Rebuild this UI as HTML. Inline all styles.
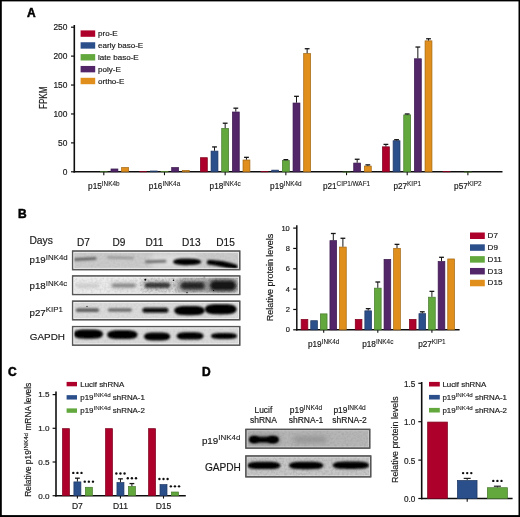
<!DOCTYPE html>
<html><head><meta charset="utf-8"><style>
html,body{margin:0;padding:0;background:#fff;}
svg{display:block;font-family:"Liberation Sans", sans-serif;fill:#1a1a1a;}
text{fill:#1a1a1a;stroke:#1a1a1a;stroke-width:0.18px;}
text.b{stroke-width:0.5px;fill:#000;stroke:#000;}
</style></head><body>
<svg width="520" height="517" viewBox="0 0 520 517">
<defs>
<filter id="soft" x="0" y="0" width="100%" height="100%" filterUnits="userSpaceOnUse"><feGaussianBlur stdDeviation="0.42"/></filter>
<filter id="b05" x="-50%" y="-200%" width="200%" height="500%"><feGaussianBlur stdDeviation="0.6"/></filter>
<filter id="b1" x="-50%" y="-200%" width="200%" height="500%"><feGaussianBlur stdDeviation="0.9"/></filter>
<filter id="b15" x="-50%" y="-200%" width="200%" height="500%"><feGaussianBlur stdDeviation="1.3"/></filter>
<filter id="b2" x="-50%" y="-200%" width="200%" height="500%"><feGaussianBlur stdDeviation="1.8"/></filter>
<filter id="b3" x="-50%" y="-200%" width="200%" height="500%"><feGaussianBlur stdDeviation="2.8"/></filter>
<filter id="grain" x="0" y="0" width="100%" height="100%"><feTurbulence type="fractalNoise" baseFrequency="0.45" numOctaves="2" seed="7" result="t"/><feColorMatrix in="t" type="matrix" values="0 0 0 0 0  0 0 0 0 0  0 0 0 0 0  0 0 0 -1.2 0.75"/></filter>
</defs>
<rect width="520" height="517" fill="#fff"/>
<g filter="url(#soft)">
<rect width="520" height="517" fill="#fff"/>
<rect x="0.00" y="0.00" width="520.00" height="1.40" fill="#000" />
<rect x="0.00" y="0.00" width="1.80" height="517.00" fill="#000" />
<rect x="518.50" y="0.00" width="1.50" height="517.00" fill="#000" />
<rect x="0.00" y="515.10" width="520.00" height="1.90" fill="#000" />
<text x="27.00" y="16.60" font-size="12" text-anchor="start" font-weight="bold"  class="b">A</text>
<line x1="74.30" y1="25.00" x2="74.30" y2="172.60" stroke="#111" stroke-width="1.6"/>
<line x1="71.00" y1="171.80" x2="74.30" y2="171.80" stroke="#111" stroke-width="1.2"/>
<text x="67.40" y="174.80" font-size="8.4" text-anchor="end" font-weight="normal" >0</text>
<line x1="71.00" y1="142.88" x2="74.30" y2="142.88" stroke="#111" stroke-width="1.2"/>
<text x="67.40" y="145.88" font-size="8.4" text-anchor="end" font-weight="normal" >50</text>
<line x1="71.00" y1="113.96" x2="74.30" y2="113.96" stroke="#111" stroke-width="1.2"/>
<text x="67.40" y="116.96" font-size="8.4" text-anchor="end" font-weight="normal" >100</text>
<line x1="71.00" y1="85.04" x2="74.30" y2="85.04" stroke="#111" stroke-width="1.2"/>
<text x="67.40" y="88.04" font-size="8.4" text-anchor="end" font-weight="normal" >150</text>
<line x1="71.00" y1="56.12" x2="74.30" y2="56.12" stroke="#111" stroke-width="1.2"/>
<text x="67.40" y="59.12" font-size="8.4" text-anchor="end" font-weight="normal" >200</text>
<line x1="71.00" y1="27.20" x2="74.30" y2="27.20" stroke="#111" stroke-width="1.2"/>
<text x="67.40" y="30.20" font-size="8.4" text-anchor="end" font-weight="normal" >250</text>
<text transform="translate(47.4,97.8) rotate(-90)" font-size="10.3" text-anchor="middle" textLength="22.4" lengthAdjust="spacingAndGlyphs">FPKM</text>
<rect x="80.60" y="30.40" width="14.60" height="6.40" fill="#ad0229" />
<text x="98.00" y="36.40" font-size="8.05" text-anchor="start" font-weight="normal" >pro-E</text>
<rect x="80.60" y="42.25" width="14.60" height="6.40" fill="#2c4f8a" />
<text x="98.00" y="48.25" font-size="8.05" text-anchor="start" font-weight="normal" >early baso-E</text>
<rect x="80.60" y="54.10" width="14.60" height="6.40" fill="#62a83e" />
<text x="98.00" y="60.10" font-size="8.05" text-anchor="start" font-weight="normal" >late baso-E</text>
<rect x="80.60" y="65.95" width="14.60" height="6.40" fill="#52256b" />
<text x="98.00" y="71.95" font-size="8.05" text-anchor="start" font-weight="normal" >poly-E</text>
<rect x="80.60" y="77.80" width="14.60" height="6.40" fill="#e08e1a" />
<text x="98.00" y="83.80" font-size="8.05" text-anchor="start" font-weight="normal" >ortho-E</text>
<line x1="73.50" y1="171.80" x2="502.50" y2="171.80" stroke="#111" stroke-width="1.6"/>
<line x1="103.80" y1="171.80" x2="103.80" y2="175.20" stroke="#111" stroke-width="1.1"/>
<rect x="100.35" y="171.69" width="6.90" height="0.11" fill="#62a83e" stroke="#46782c" stroke-width="0.7"/>
<rect x="111.00" y="168.97" width="6.90" height="2.83" fill="#52256b" stroke="#3b1a4d" stroke-width="0.7"/>
<rect x="121.65" y="167.52" width="6.90" height="4.28" fill="#e08e1a" stroke="#a16612" stroke-width="0.7"/>
<text x="103.80" y="189.00" font-size="8.2" text-anchor="middle" font-weight="normal" >p15<tspan font-size="6.4" dy="-3.0" stroke-width="0.1">INK4b</tspan></text>
<line x1="164.48" y1="171.80" x2="164.48" y2="175.20" stroke="#111" stroke-width="1.1"/>
<rect x="139.73" y="171.57" width="6.90" height="0.23" fill="#ad0229" stroke="#7c011d" stroke-width="0.7"/>
<rect x="150.38" y="170.99" width="6.90" height="0.81" fill="#2c4f8a" stroke="#1f3863" stroke-width="0.7"/>
<rect x="161.03" y="171.57" width="6.90" height="0.23" fill="#62a83e" stroke="#46782c" stroke-width="0.7"/>
<rect x="171.68" y="167.52" width="6.90" height="4.28" fill="#52256b" stroke="#3b1a4d" stroke-width="0.7"/>
<rect x="182.33" y="170.41" width="6.90" height="1.39" fill="#e08e1a" stroke="#a16612" stroke-width="0.7"/>
<text x="164.48" y="189.00" font-size="8.2" text-anchor="middle" font-weight="normal" >p16<tspan font-size="6.4" dy="-3.0" stroke-width="0.1">INK4a</tspan></text>
<line x1="225.16" y1="171.80" x2="225.16" y2="175.20" stroke="#111" stroke-width="1.1"/>
<rect x="200.41" y="157.69" width="6.90" height="14.11" fill="#ad0229" stroke="#7c011d" stroke-width="0.7"/>
<rect x="211.06" y="151.10" width="6.90" height="20.70" fill="#2c4f8a" stroke="#1f3863" stroke-width="0.7"/>
<line x1="214.51" y1="150.75" x2="214.51" y2="146.93" stroke="#151515" stroke-width="1.0"/>
<line x1="212.11" y1="146.93" x2="216.91" y2="146.93" stroke="#151515" stroke-width="1.3"/>
<rect x="221.71" y="128.48" width="6.90" height="43.32" fill="#62a83e" stroke="#46782c" stroke-width="0.7"/>
<line x1="225.16" y1="128.13" x2="225.16" y2="123.21" stroke="#151515" stroke-width="1.0"/>
<line x1="222.76" y1="123.21" x2="227.56" y2="123.21" stroke="#151515" stroke-width="1.3"/>
<rect x="232.36" y="112.00" width="6.90" height="59.80" fill="#52256b" stroke="#3b1a4d" stroke-width="0.7"/>
<line x1="235.81" y1="111.65" x2="235.81" y2="108.18" stroke="#151515" stroke-width="1.0"/>
<line x1="233.41" y1="108.18" x2="238.21" y2="108.18" stroke="#151515" stroke-width="1.3"/>
<rect x="243.01" y="160.00" width="6.90" height="11.80" fill="#e08e1a" stroke="#a16612" stroke-width="0.7"/>
<line x1="246.46" y1="159.65" x2="246.46" y2="157.34" stroke="#151515" stroke-width="1.0"/>
<line x1="244.06" y1="157.34" x2="248.86" y2="157.34" stroke="#151515" stroke-width="1.3"/>
<text x="225.16" y="189.00" font-size="8.2" text-anchor="middle" font-weight="normal" >p18<tspan font-size="6.4" dy="-3.0" stroke-width="0.1">INK4c</tspan></text>
<line x1="285.84" y1="171.80" x2="285.84" y2="175.20" stroke="#111" stroke-width="1.1"/>
<rect x="261.09" y="171.57" width="6.90" height="0.23" fill="#ad0229" stroke="#7c011d" stroke-width="0.7"/>
<rect x="271.74" y="170.13" width="6.90" height="1.67" fill="#2c4f8a" stroke="#1f3863" stroke-width="0.7"/>
<rect x="282.39" y="160.58" width="6.90" height="11.22" fill="#62a83e" stroke="#46782c" stroke-width="0.7"/>
<line x1="285.84" y1="160.23" x2="285.84" y2="159.65" stroke="#151515" stroke-width="1.0"/>
<line x1="283.44" y1="159.65" x2="288.24" y2="159.65" stroke="#151515" stroke-width="1.3"/>
<rect x="293.04" y="103.03" width="6.90" height="68.77" fill="#52256b" stroke="#3b1a4d" stroke-width="0.7"/>
<line x1="296.49" y1="102.68" x2="296.49" y2="96.32" stroke="#151515" stroke-width="1.0"/>
<line x1="294.09" y1="96.32" x2="298.89" y2="96.32" stroke="#151515" stroke-width="1.3"/>
<rect x="303.69" y="53.58" width="6.90" height="118.22" fill="#e08e1a" stroke="#a16612" stroke-width="0.7"/>
<line x1="307.14" y1="53.23" x2="307.14" y2="48.72" stroke="#151515" stroke-width="1.0"/>
<line x1="304.74" y1="48.72" x2="309.54" y2="48.72" stroke="#151515" stroke-width="1.3"/>
<text x="285.84" y="189.00" font-size="8.2" text-anchor="middle" font-weight="normal" >p19<tspan font-size="6.4" dy="-3.0" stroke-width="0.1">INK4d</tspan></text>
<line x1="346.52" y1="171.80" x2="346.52" y2="175.20" stroke="#111" stroke-width="1.1"/>
<rect x="343.07" y="171.98" width="6.90" height="0.10" fill="#62a83e" stroke="#46782c" stroke-width="0.7"/>
<rect x="353.72" y="163.07" width="6.90" height="8.73" fill="#52256b" stroke="#3b1a4d" stroke-width="0.7"/>
<line x1="357.17" y1="162.72" x2="357.17" y2="159.25" stroke="#151515" stroke-width="1.0"/>
<line x1="354.77" y1="159.25" x2="359.57" y2="159.25" stroke="#151515" stroke-width="1.3"/>
<rect x="364.37" y="166.08" width="6.90" height="5.72" fill="#e08e1a" stroke="#a16612" stroke-width="0.7"/>
<line x1="367.82" y1="165.73" x2="367.82" y2="164.86" stroke="#151515" stroke-width="1.0"/>
<line x1="365.42" y1="164.86" x2="370.22" y2="164.86" stroke="#151515" stroke-width="1.3"/>
<text x="346.52" y="189.00" font-size="8.2" text-anchor="middle" font-weight="normal" >p21<tspan font-size="6.4" dy="-3.0" stroke-width="0.1">CIP1/WAF1</tspan></text>
<line x1="407.20" y1="171.80" x2="407.20" y2="175.20" stroke="#111" stroke-width="1.1"/>
<rect x="382.45" y="146.82" width="6.90" height="24.98" fill="#ad0229" stroke="#7c011d" stroke-width="0.7"/>
<line x1="385.90" y1="146.47" x2="385.90" y2="144.38" stroke="#151515" stroke-width="1.0"/>
<line x1="383.50" y1="144.38" x2="388.30" y2="144.38" stroke="#151515" stroke-width="1.3"/>
<rect x="393.10" y="140.74" width="6.90" height="31.06" fill="#2c4f8a" stroke="#1f3863" stroke-width="0.7"/>
<line x1="396.55" y1="140.39" x2="396.55" y2="139.70" stroke="#151515" stroke-width="1.0"/>
<line x1="394.15" y1="139.70" x2="398.95" y2="139.70" stroke="#151515" stroke-width="1.3"/>
<rect x="403.75" y="114.89" width="6.90" height="56.91" fill="#62a83e" stroke="#46782c" stroke-width="0.7"/>
<line x1="407.20" y1="114.54" x2="407.20" y2="113.96" stroke="#151515" stroke-width="1.0"/>
<line x1="404.80" y1="113.96" x2="409.60" y2="113.96" stroke="#151515" stroke-width="1.3"/>
<rect x="414.40" y="58.78" width="6.90" height="113.02" fill="#52256b" stroke="#3b1a4d" stroke-width="0.7"/>
<line x1="417.85" y1="58.43" x2="417.85" y2="47.04" stroke="#151515" stroke-width="1.0"/>
<line x1="415.45" y1="47.04" x2="420.25" y2="47.04" stroke="#151515" stroke-width="1.3"/>
<rect x="425.05" y="40.85" width="6.90" height="130.95" fill="#e08e1a" stroke="#a16612" stroke-width="0.7"/>
<line x1="428.50" y1="40.50" x2="428.50" y2="38.77" stroke="#151515" stroke-width="1.0"/>
<line x1="426.10" y1="38.77" x2="430.90" y2="38.77" stroke="#151515" stroke-width="1.3"/>
<text x="407.20" y="189.00" font-size="8.2" text-anchor="middle" font-weight="normal" >p27<tspan font-size="6.4" dy="-3.0" stroke-width="0.1">KIP1</tspan></text>
<line x1="467.88" y1="171.80" x2="467.88" y2="175.20" stroke="#111" stroke-width="1.1"/>
<rect x="443.13" y="171.63" width="6.90" height="0.17" fill="#ad0229" stroke="#7c011d" stroke-width="0.7"/>
<rect x="464.43" y="171.98" width="6.90" height="0.10" fill="#62a83e" stroke="#46782c" stroke-width="0.7"/>
<text x="467.88" y="189.00" font-size="8.2" text-anchor="middle" font-weight="normal" >p57<tspan font-size="6.4" dy="-3.0" stroke-width="0.1">KIP2</tspan></text>
<text x="18.00" y="217.80" font-size="12" text-anchor="start" font-weight="bold"  class="b">B</text>
<text x="29.40" y="243.60" font-size="10.3" text-anchor="start" font-weight="normal" >Days</text>
<text x="83.40" y="246.00" font-size="10.1" text-anchor="middle" font-weight="normal" >D7</text>
<text x="119.00" y="246.00" font-size="10.1" text-anchor="middle" font-weight="normal" >D9</text>
<text x="154.40" y="246.00" font-size="10.1" text-anchor="middle" font-weight="normal" >D11</text>
<text x="191.30" y="246.00" font-size="10.1" text-anchor="middle" font-weight="normal" >D13</text>
<text x="225.50" y="246.00" font-size="10.1" text-anchor="middle" font-weight="normal" >D15</text>
<text x="29.60" y="263.30" font-size="9.7" text-anchor="start" font-weight="normal" >p19<tspan font-size="7.9" dy="-3.2" stroke-width="0.1">INK4d</tspan></text>
<text x="29.60" y="289.00" font-size="9.7" text-anchor="start" font-weight="normal" >p18<tspan font-size="7.9" dy="-3.2" stroke-width="0.1">INK4c</tspan></text>
<text x="29.60" y="315.60" font-size="9.7" text-anchor="start" font-weight="normal" >p27<tspan font-size="7.9" dy="-3.2" stroke-width="0.1">KIP1</tspan></text>
<text x="29.80" y="339.70" font-size="9.9" text-anchor="start" font-weight="normal" >GAPDH</text>
<clipPath id="cb0"><rect x="73.2" y="251.7" width="165.9" height="17.3"/></clipPath>
<rect x="72.60" y="251.10" width="167.10" height="18.50" fill="#cacaca" stroke="#575757" stroke-width="1.3"/>
<g clip-path="url(#cb0)">
<rect x="72" y="250.5" width="168.3" height="19.7" filter="url(#grain)" opacity="0.08"/>
<rect x="150.00" y="254.00" width="50.00" height="14.00" rx="7.00" fill="#e6e6e6" opacity="0.7" filter="url(#b3)" transform="rotate(0 175.00 261.00)"/>
<rect x="73.50" y="257.70" width="23.00" height="2.60" rx="1.30" fill="#4a4a4a" opacity="0.9" filter="url(#b1)" transform="rotate(-3 85.00 259.00)"/>
<rect x="107.00" y="256.50" width="27.00" height="2.60" rx="1.30" fill="#8c8c8c" opacity="0.8" filter="url(#b15)" transform="rotate(1.5 120.50 257.80)"/>
<rect x="145.00" y="260.10" width="21.50" height="3.00" rx="1.50" fill="#606060" opacity="0.85" filter="url(#b1)" transform="rotate(-2 155.75 261.60)"/>
<path d="M173,261.8 C173,258.9 180,258.4 187,258.4 C194,258.4 201.2,259 201.2,261.8 C201.2,264.6 194,265.2 187,265.2 C180,265.2 173,264.7 173,261.8 Z" fill="#000" opacity="1" filter="url(#b1)"/>
<path d="M208.5,259.9 C218,260 229,261.8 236,264.6 C238.6,265.8 238.6,269.6 235.5,269.3 C228,268.6 217,265.6 208.5,264.6 C206.4,264.4 206.4,260 208.5,259.9 Z" fill="#000" opacity="1" filter="url(#b1)"/>
</g>
<rect x="72.60" y="251.10" width="167.10" height="18.50" fill="none" stroke="#575757" stroke-width="1.3"/><rect x="73.85" y="252.35" width="164.60" height="16.00" fill="none" stroke="#f4f4f4" stroke-width="1.0" stroke-opacity="0.8"/>
<clipPath id="cb1"><rect x="73.2" y="276.59999999999997" width="165.9" height="17.3"/></clipPath>
<rect x="72.60" y="276.00" width="167.10" height="18.50" fill="#ebebeb" stroke="#575757" stroke-width="1.3"/>
<g clip-path="url(#cb1)">
<rect x="72" y="275.4" width="168.3" height="19.7" filter="url(#grain)" opacity="0.16"/>
<rect x="76.00" y="283.80" width="23.00" height="4.00" rx="2.00" fill="#c2c2c2" opacity="0.8" filter="url(#b2)" transform="rotate(0 87.50 285.80)"/>
<rect x="110.00" y="282.40" width="27.00" height="6.00" rx="3.00" fill="#b0b0b0" opacity="0.7" filter="url(#b3)" transform="rotate(0 123.50 285.40)"/>
<rect x="112.00" y="283.80" width="23.50" height="3.40" rx="1.70" fill="#7a7a7a" opacity="0.8" filter="url(#b15)" transform="rotate(0 123.75 285.50)"/>
<rect x="141.00" y="279.80" width="31.00" height="11.00" rx="5.50" fill="#a8a8a8" opacity="0.7" filter="url(#b3)" transform="rotate(0 156.50 285.30)"/>
<rect x="145.00" y="282.80" width="25.00" height="5.00" rx="2.50" fill="#2a2a2a" opacity="0.9" filter="url(#b15)" transform="rotate(0 157.50 285.30)"/>
<rect x="174.00" y="276.70" width="38.00" height="18.00" rx="9.00" fill="#a0a0a0" opacity="0.85" filter="url(#b3)" transform="rotate(0 193.00 285.70)"/>
<rect x="180.50" y="281.95" width="25.00" height="7.50" rx="3.75" fill="#262626" opacity="1" filter="url(#b2)" transform="rotate(0 193.00 285.70)"/>
<rect x="205.00" y="276.00" width="35.00" height="19.00" rx="9.50" fill="#8a8a8a" opacity="0.85" filter="url(#b3)" transform="rotate(0 222.50 285.50)"/>
<rect x="210.00" y="280.60" width="26.00" height="10.00" rx="5.00" fill="#141414" opacity="1" filter="url(#b2)" transform="rotate(0 223.00 285.60)"/>
<rect x="140" y="276" width="100" height="19" filter="url(#grain)" opacity="0.22"/>
<circle cx="145.3" cy="279.8" r="1.0" fill="#000"/>
<circle cx="173.5" cy="280.2" r="0.8" fill="#000"/>
<circle cx="187" cy="292.8" r="0.9" fill="#000"/>
<circle cx="204.2" cy="276.8" r="0.9" fill="#000"/>
<circle cx="213.5" cy="290.5" r="0.6" fill="#000"/>
</g>
<rect x="72.60" y="276.00" width="167.10" height="18.50" fill="none" stroke="#575757" stroke-width="1.3"/><rect x="73.85" y="277.25" width="164.60" height="16.00" fill="none" stroke="#f4f4f4" stroke-width="1.0" stroke-opacity="0.8"/>
<clipPath id="cb2"><rect x="73.2" y="301.8" width="165.9" height="17.3"/></clipPath>
<rect x="72.60" y="301.20" width="167.10" height="18.50" fill="#dadada" stroke="#575757" stroke-width="1.3"/>
<g clip-path="url(#cb2)">
<rect x="72" y="300.6" width="168.3" height="19.7" filter="url(#grain)" opacity="0.08"/>
<rect x="75.80" y="308.30" width="23.30" height="3.80" rx="1.90" fill="#505050" opacity="0.9" filter="url(#b1)" transform="rotate(0 87.45 310.20)"/>
<rect x="107.80" y="308.30" width="24.20" height="3.40" rx="1.70" fill="#5a5a5a" opacity="0.85" filter="url(#b1)" transform="rotate(0 119.90 310.00)"/>
<rect x="142.40" y="307.70" width="26.00" height="5.00" rx="2.50" fill="#0a0a0a" opacity="1" filter="url(#b1)" transform="rotate(0 155.40 310.20)"/>
<path d="M174.20,310.60 C174.50,306.14 180.32,305.90 189.50,305.90 C198.68,305.90 204.50,306.14 204.80,310.60 C204.50,315.06 198.68,315.30 189.50,315.30 C180.32,315.30 174.50,315.06 174.20,310.60 Z" fill="#000" opacity="1" filter="url(#b15)"/>
<path d="M204.80,309.30 C205.10,304.45 211.16,304.20 220.70,304.20 C230.24,304.20 236.30,304.45 236.60,309.30 C236.30,314.15 230.24,314.40 220.70,314.40 C211.16,314.40 205.10,314.15 204.80,309.30 Z" fill="#000" opacity="1" filter="url(#b15)"/>
<circle cx="87" cy="306.5" r="0.7" fill="#333"/>
</g>
<rect x="72.60" y="301.20" width="167.10" height="18.50" fill="none" stroke="#575757" stroke-width="1.3"/><rect x="73.85" y="302.45" width="164.60" height="16.00" fill="none" stroke="#f4f4f4" stroke-width="1.0" stroke-opacity="0.8"/>
<clipPath id="cb3"><rect x="73.2" y="327.2" width="165.9" height="17.3"/></clipPath>
<rect x="72.60" y="326.60" width="167.10" height="18.50" fill="#d9d9d9" stroke="#575757" stroke-width="1.3"/>
<g clip-path="url(#cb3)">
<rect x="72" y="326.0" width="168.3" height="19.7" filter="url(#grain)" opacity="0.08"/>
<path d="M73.60,334.10 C73.90,329.64 79.48,329.40 88.30,329.40 C97.12,329.40 102.70,329.64 103.00,334.10 C102.70,338.56 97.12,338.80 88.30,338.80 C79.48,338.80 73.90,338.56 73.60,334.10 Z" fill="#000" opacity="1" filter="url(#b1)"/>
<path d="M107.20,334.70 C107.50,330.52 113.26,330.30 122.35,330.30 C131.44,330.30 137.20,330.52 137.50,334.70 C137.20,338.88 131.44,339.10 122.35,339.10 C113.26,339.10 107.50,338.88 107.20,334.70 Z" fill="#000" opacity="1" filter="url(#b1)"/>
<path d="M144.00,336.50 C144.30,332.70 149.24,332.50 157.10,332.50 C164.96,332.50 169.90,332.70 170.20,336.50 C169.90,340.30 164.96,340.50 157.10,340.50 C149.24,340.50 144.30,340.30 144.00,336.50 Z" fill="#000" opacity="1" filter="url(#b1)"/>
<path d="M176.60,335.90 C176.90,332.38 182.00,332.20 190.10,332.20 C198.20,332.20 203.30,332.38 203.60,335.90 C203.30,339.41 198.20,339.60 190.10,339.60 C182.00,339.60 176.90,339.41 176.60,335.90 Z" fill="#000" opacity="1" filter="url(#b1)"/>
<path d="M211.00,335.90 C211.30,333.05 216.22,332.90 224.05,332.90 C231.88,332.90 236.80,333.05 237.10,335.90 C236.80,338.75 231.88,338.90 224.05,338.90 C216.22,338.90 211.30,338.75 211.00,335.90 Z" fill="#000" opacity="1" filter="url(#b1)"/>
</g>
<rect x="72.60" y="326.60" width="167.10" height="18.50" fill="none" stroke="#575757" stroke-width="1.3"/><rect x="73.85" y="327.85" width="164.60" height="16.00" fill="none" stroke="#f4f4f4" stroke-width="1.0" stroke-opacity="0.8"/>
<line x1="296.80" y1="225.30" x2="296.80" y2="330.50" stroke="#111" stroke-width="1.5"/>
<line x1="293.20" y1="329.80" x2="296.80" y2="329.80" stroke="#111" stroke-width="1.2"/>
<text x="289.80" y="332.40" font-size="7.5" text-anchor="end" font-weight="normal" >0</text>
<line x1="293.20" y1="309.46" x2="296.80" y2="309.46" stroke="#111" stroke-width="1.2"/>
<text x="289.80" y="312.06" font-size="7.5" text-anchor="end" font-weight="normal" >2</text>
<line x1="293.20" y1="289.12" x2="296.80" y2="289.12" stroke="#111" stroke-width="1.2"/>
<text x="289.80" y="291.72" font-size="7.5" text-anchor="end" font-weight="normal" >4</text>
<line x1="293.20" y1="268.78" x2="296.80" y2="268.78" stroke="#111" stroke-width="1.2"/>
<text x="289.80" y="271.38" font-size="7.5" text-anchor="end" font-weight="normal" >6</text>
<line x1="293.20" y1="248.44" x2="296.80" y2="248.44" stroke="#111" stroke-width="1.2"/>
<text x="289.80" y="251.04" font-size="7.5" text-anchor="end" font-weight="normal" >8</text>
<line x1="293.20" y1="228.10" x2="296.80" y2="228.10" stroke="#111" stroke-width="1.2"/>
<text x="289.80" y="230.70" font-size="7.5" text-anchor="end" font-weight="normal" >10</text>
<text transform="translate(273.0,277.5) rotate(-90)" font-size="8.95" text-anchor="middle">Relative protein levels</text>
<line x1="296.00" y1="329.80" x2="459.60" y2="329.80" stroke="#111" stroke-width="1.5"/>
<line x1="323.70" y1="329.80" x2="323.70" y2="332.80" stroke="#111" stroke-width="1.1"/>
<rect x="301.15" y="319.37" width="6.70" height="10.43" fill="#ad0229" stroke="#7c011d" stroke-width="0.7"/>
<rect x="310.75" y="320.69" width="6.70" height="9.11" fill="#2c4f8a" stroke="#1f3863" stroke-width="0.7"/>
<rect x="320.35" y="313.88" width="6.70" height="15.92" fill="#62a83e" stroke="#46782c" stroke-width="0.7"/>
<rect x="329.95" y="240.65" width="6.70" height="89.15" fill="#52256b" stroke="#3b1a4d" stroke-width="0.7"/>
<line x1="333.30" y1="240.30" x2="333.30" y2="233.49" stroke="#151515" stroke-width="1.0"/>
<line x1="330.90" y1="233.49" x2="335.70" y2="233.49" stroke="#151515" stroke-width="1.3"/>
<rect x="339.55" y="247.06" width="6.70" height="82.74" fill="#e08e1a" stroke="#a16612" stroke-width="0.7"/>
<line x1="342.90" y1="246.71" x2="342.90" y2="238.27" stroke="#151515" stroke-width="1.0"/>
<line x1="340.50" y1="238.27" x2="345.30" y2="238.27" stroke="#151515" stroke-width="1.3"/>
<text x="323.70" y="347.00" font-size="8.2" text-anchor="middle" font-weight="normal" >p19<tspan font-size="6.4" dy="-3.0" stroke-width="0.1">INK4d</tspan></text>
<line x1="377.80" y1="329.80" x2="377.80" y2="332.80" stroke="#111" stroke-width="1.1"/>
<rect x="355.25" y="319.37" width="6.70" height="10.43" fill="#ad0229" stroke="#7c011d" stroke-width="0.7"/>
<rect x="364.85" y="310.83" width="6.70" height="18.97" fill="#2c4f8a" stroke="#1f3863" stroke-width="0.7"/>
<line x1="368.20" y1="310.48" x2="368.20" y2="308.65" stroke="#151515" stroke-width="1.0"/>
<line x1="365.80" y1="308.65" x2="370.60" y2="308.65" stroke="#151515" stroke-width="1.3"/>
<rect x="374.45" y="288.15" width="6.70" height="41.65" fill="#62a83e" stroke="#46782c" stroke-width="0.7"/>
<line x1="377.80" y1="287.80" x2="377.80" y2="282.00" stroke="#151515" stroke-width="1.0"/>
<line x1="375.40" y1="282.00" x2="380.20" y2="282.00" stroke="#151515" stroke-width="1.3"/>
<rect x="384.05" y="259.37" width="6.70" height="70.43" fill="#52256b" stroke="#3b1a4d" stroke-width="0.7"/>
<rect x="393.65" y="248.38" width="6.70" height="81.42" fill="#e08e1a" stroke="#a16612" stroke-width="0.7"/>
<line x1="397.00" y1="248.03" x2="397.00" y2="244.37" stroke="#151515" stroke-width="1.0"/>
<line x1="394.60" y1="244.37" x2="399.40" y2="244.37" stroke="#151515" stroke-width="1.3"/>
<text x="377.80" y="347.00" font-size="8.2" text-anchor="middle" font-weight="normal" >p18<tspan font-size="6.4" dy="-3.0" stroke-width="0.1">INK4c</tspan></text>
<line x1="431.90" y1="329.80" x2="431.90" y2="332.80" stroke="#111" stroke-width="1.1"/>
<rect x="409.35" y="319.37" width="6.70" height="10.43" fill="#ad0229" stroke="#7c011d" stroke-width="0.7"/>
<rect x="418.95" y="313.67" width="6.70" height="16.13" fill="#2c4f8a" stroke="#1f3863" stroke-width="0.7"/>
<line x1="422.30" y1="313.32" x2="422.30" y2="311.80" stroke="#151515" stroke-width="1.0"/>
<line x1="419.90" y1="311.80" x2="424.70" y2="311.80" stroke="#151515" stroke-width="1.3"/>
<rect x="428.55" y="297.20" width="6.70" height="32.60" fill="#62a83e" stroke="#46782c" stroke-width="0.7"/>
<line x1="431.90" y1="296.85" x2="431.90" y2="291.36" stroke="#151515" stroke-width="1.0"/>
<line x1="429.50" y1="291.36" x2="434.30" y2="291.36" stroke="#151515" stroke-width="1.3"/>
<rect x="438.15" y="261.50" width="6.70" height="68.30" fill="#52256b" stroke="#3b1a4d" stroke-width="0.7"/>
<line x1="441.50" y1="261.15" x2="441.50" y2="257.29" stroke="#151515" stroke-width="1.0"/>
<line x1="439.10" y1="257.29" x2="443.90" y2="257.29" stroke="#151515" stroke-width="1.3"/>
<rect x="447.75" y="258.96" width="6.70" height="70.84" fill="#e08e1a" stroke="#a16612" stroke-width="0.7"/>
<text x="431.90" y="347.00" font-size="8.2" text-anchor="middle" font-weight="normal" >p27<tspan font-size="6.4" dy="-3.0" stroke-width="0.1">KIP1</tspan></text>
<rect x="470.00" y="232.50" width="14.80" height="6.50" fill="#ad0229" />
<text x="487.60" y="238.10" font-size="8.1" text-anchor="start" font-weight="normal" >D7</text>
<rect x="470.00" y="244.32" width="14.80" height="6.50" fill="#2c4f8a" />
<text x="487.60" y="249.92" font-size="8.1" text-anchor="start" font-weight="normal" >D9</text>
<rect x="470.00" y="256.14" width="14.80" height="6.50" fill="#62a83e" />
<text x="487.60" y="261.74" font-size="8.1" text-anchor="start" font-weight="normal" >D11</text>
<rect x="470.00" y="267.96" width="14.80" height="6.50" fill="#52256b" />
<text x="487.60" y="273.56" font-size="8.1" text-anchor="start" font-weight="normal" >D13</text>
<rect x="470.00" y="279.78" width="14.80" height="6.50" fill="#e08e1a" />
<text x="487.60" y="285.38" font-size="8.1" text-anchor="start" font-weight="normal" >D15</text>
<text x="8.10" y="375.80" font-size="12" text-anchor="start" font-weight="bold"  class="b">C</text>
<line x1="56.00" y1="391.50" x2="56.00" y2="496.50" stroke="#111" stroke-width="1.6"/>
<line x1="52.60" y1="495.70" x2="56.00" y2="495.70" stroke="#111" stroke-width="1.2"/>
<text x="49.60" y="498.50" font-size="8.1" text-anchor="end" font-weight="normal" >0.0</text>
<line x1="52.60" y1="462.00" x2="56.00" y2="462.00" stroke="#111" stroke-width="1.2"/>
<text x="49.60" y="464.80" font-size="8.1" text-anchor="end" font-weight="normal" >0.5</text>
<line x1="52.60" y1="428.30" x2="56.00" y2="428.30" stroke="#111" stroke-width="1.2"/>
<text x="49.60" y="431.10" font-size="8.1" text-anchor="end" font-weight="normal" >1.0</text>
<line x1="52.60" y1="394.60" x2="56.00" y2="394.60" stroke="#111" stroke-width="1.2"/>
<text x="49.60" y="397.40" font-size="8.1" text-anchor="end" font-weight="normal" >1.5</text>
<text transform="translate(31.4,439.7) rotate(-90)" font-size="8.4" text-anchor="middle">Relative p19<tspan font-size="6.2" dy="-3.4">INK4d</tspan><tspan dy="3.4"> mRNA levels</tspan></text>
<line x1="55.20" y1="495.70" x2="185.80" y2="495.70" stroke="#111" stroke-width="1.6"/>
<line x1="77.40" y1="495.70" x2="77.40" y2="498.60" stroke="#111" stroke-width="1.1"/>
<rect x="62.45" y="428.65" width="7.00" height="67.05" fill="#ad0229" stroke="#7c011d" stroke-width="0.7"/>
<rect x="73.90" y="481.90" width="7.00" height="13.80" fill="#2c4f8a" stroke="#1f3863" stroke-width="0.7"/>
<line x1="77.40" y1="481.55" x2="77.40" y2="478.18" stroke="#151515" stroke-width="1.0"/>
<line x1="75.00" y1="478.18" x2="79.80" y2="478.18" stroke="#151515" stroke-width="1.3"/>
<circle cx="73.30" cy="472.88" r="1.2" fill="#111"/>
<circle cx="77.40" cy="472.88" r="1.2" fill="#111"/>
<circle cx="81.50" cy="472.88" r="1.2" fill="#111"/>
<rect x="85.35" y="487.29" width="7.00" height="8.41" fill="#62a83e" stroke="#46782c" stroke-width="0.7"/>
<circle cx="84.75" cy="481.64" r="1.2" fill="#111"/>
<circle cx="88.85" cy="481.64" r="1.2" fill="#111"/>
<circle cx="92.95" cy="481.64" r="1.2" fill="#111"/>
<text x="77.40" y="509.30" font-size="8.5" text-anchor="middle" font-weight="normal" >D7</text>
<line x1="120.45" y1="495.70" x2="120.45" y2="498.60" stroke="#111" stroke-width="1.1"/>
<rect x="105.50" y="428.65" width="7.00" height="67.05" fill="#ad0229" stroke="#7c011d" stroke-width="0.7"/>
<rect x="116.95" y="482.57" width="7.00" height="13.13" fill="#2c4f8a" stroke="#1f3863" stroke-width="0.7"/>
<line x1="120.45" y1="482.22" x2="120.45" y2="478.85" stroke="#151515" stroke-width="1.0"/>
<line x1="118.05" y1="478.85" x2="122.85" y2="478.85" stroke="#151515" stroke-width="1.3"/>
<circle cx="116.35" cy="473.55" r="1.2" fill="#111"/>
<circle cx="120.45" cy="473.55" r="1.2" fill="#111"/>
<circle cx="124.55" cy="473.55" r="1.2" fill="#111"/>
<rect x="128.40" y="486.61" width="7.00" height="9.09" fill="#62a83e" stroke="#46782c" stroke-width="0.7"/>
<line x1="131.90" y1="486.26" x2="131.90" y2="483.57" stroke="#151515" stroke-width="1.0"/>
<line x1="129.50" y1="483.57" x2="134.30" y2="483.57" stroke="#151515" stroke-width="1.3"/>
<circle cx="127.80" cy="478.27" r="1.2" fill="#111"/>
<circle cx="131.90" cy="478.27" r="1.2" fill="#111"/>
<circle cx="136.00" cy="478.27" r="1.2" fill="#111"/>
<text x="120.45" y="509.30" font-size="8.5" text-anchor="middle" font-weight="normal" >D11</text>
<line x1="163.50" y1="495.70" x2="163.50" y2="498.60" stroke="#111" stroke-width="1.1"/>
<rect x="148.55" y="428.65" width="7.00" height="67.05" fill="#ad0229" stroke="#7c011d" stroke-width="0.7"/>
<rect x="160.00" y="484.59" width="7.00" height="11.11" fill="#2c4f8a" stroke="#1f3863" stroke-width="0.7"/>
<circle cx="159.40" cy="478.94" r="1.2" fill="#111"/>
<circle cx="163.50" cy="478.94" r="1.2" fill="#111"/>
<circle cx="167.60" cy="478.94" r="1.2" fill="#111"/>
<rect x="171.45" y="492.01" width="7.00" height="3.69" fill="#62a83e" stroke="#46782c" stroke-width="0.7"/>
<circle cx="170.85" cy="486.36" r="1.2" fill="#111"/>
<circle cx="174.95" cy="486.36" r="1.2" fill="#111"/>
<circle cx="179.05" cy="486.36" r="1.2" fill="#111"/>
<text x="163.50" y="509.30" font-size="8.5" text-anchor="middle" font-weight="normal" >D15</text>
<rect x="66.60" y="381.90" width="10.40" height="4.40" fill="#ad0229" />
<text x="80.30" y="386.90" font-size="7.9" text-anchor="start" font-weight="normal" >Lucif shRNA</text>
<rect x="66.60" y="395.15" width="10.40" height="4.40" fill="#2c4f8a" />
<text x="80.30" y="400.15" font-size="7.9" text-anchor="start" font-weight="normal" >p19<tspan font-size="6.2" dy="-3.0" stroke-width="0.1">INK4d</tspan><tspan dy="3.0"> shRNA-1</tspan></text>
<rect x="66.60" y="408.40" width="10.40" height="4.40" fill="#62a83e" />
<text x="80.30" y="413.40" font-size="7.9" text-anchor="start" font-weight="normal" >p19<tspan font-size="6.2" dy="-3.0" stroke-width="0.1">INK4d</tspan><tspan dy="3.0"> shRNA-2</tspan></text>
<text x="202.00" y="375.70" font-size="12" text-anchor="start" font-weight="bold"  class="b">D</text>
<text x="263.40" y="412.50" font-size="8.4" text-anchor="middle" font-weight="normal" >Lucif</text>
<text x="263.40" y="422.70" font-size="8.5" text-anchor="middle" font-weight="normal" >shRNA</text>
<text x="306.00" y="412.50" font-size="8.4" text-anchor="middle" font-weight="normal" >p19<tspan font-size="6.6" dy="-3.0" stroke-width="0.1">INK4d</tspan></text>
<text x="306.00" y="422.70" font-size="8.5" text-anchor="middle" font-weight="normal" >shRNA-1</text>
<text x="349.60" y="412.50" font-size="8.4" text-anchor="middle" font-weight="normal" >p19<tspan font-size="6.6" dy="-3.0" stroke-width="0.1">INK4d</tspan></text>
<text x="349.60" y="422.70" font-size="8.5" text-anchor="middle" font-weight="normal" >shRNA-2</text>
<text x="201.90" y="443.70" font-size="9.8" text-anchor="start" font-weight="normal" >p19<tspan font-size="8.0" dy="-3.3" stroke-width="0.1">INK4d</tspan></text>
<text x="205.00" y="471.40" font-size="10.1" text-anchor="start" font-weight="normal" >GAPDH</text>
<clipPath id="cd1"><rect x="246.5" y="430.0" width="122.6" height="17.5"/></clipPath>
<rect x="245.90" y="429.40" width="123.80" height="18.70" fill="#b6b6b6" stroke="#575757" stroke-width="1.3"/>
<g clip-path="url(#cd1)">
<rect x="245.3" y="428.8" width="125.0" height="19.9" filter="url(#grain)" opacity="0.12"/>
<rect x="247.00" y="434.10" width="34.00" height="11.00" rx="5.50" fill="#808080" opacity="0.6" filter="url(#b3)" transform="rotate(0 264.00 439.60)"/>
<rect x="249.50" y="436.70" width="29.00" height="5.80" rx="2.90" fill="#000" opacity="1" filter="url(#b1)" transform="rotate(0 264.00 439.60)"/>
<ellipse cx="254.2" cy="439.5" rx="4.6" ry="3.4" fill="#000" filter="url(#b1)"/>
<ellipse cx="272.6" cy="439.6" rx="5.6" ry="3.7" fill="#000" filter="url(#b1)"/>
<rect x="293.00" y="436.10" width="34.00" height="7.00" rx="3.50" fill="#909090" opacity="0.8" filter="url(#b3)" transform="rotate(0 310.00 439.60)"/>
</g>
<rect x="245.90" y="429.40" width="123.80" height="18.70" fill="none" stroke="#575757" stroke-width="1.3"/><rect x="247.15" y="430.65" width="121.30" height="16.20" fill="none" stroke="#f4f4f4" stroke-width="1.0" stroke-opacity="0.35"/>
<clipPath id="cd2"><rect x="246.5" y="456.59999999999997" width="123.6" height="19.6"/></clipPath>
<rect x="245.90" y="456.00" width="124.80" height="20.80" fill="#c6c6c6" stroke="#575757" stroke-width="1.3"/>
<g clip-path="url(#cd2)">
<rect x="245.3" y="455.4" width="126.0" height="22.0" filter="url(#grain)" opacity="0.18"/>
<path d="M247.40,465.40 C247.70,461.88 254.00,461.70 263.90,461.70 C273.80,461.70 280.10,461.88 280.40,465.40 C280.10,468.91 273.80,469.10 263.90,469.10 C254.00,469.10 247.70,468.91 247.40,465.40 Z" fill="#000" opacity="1" filter="url(#b1)"/>
<path d="M289.00,465.50 C289.30,461.99 295.88,461.80 306.20,461.80 C316.52,461.80 323.10,461.99 323.40,465.50 C323.10,469.01 316.52,469.20 306.20,469.20 C295.88,469.20 289.30,469.01 289.00,465.50 Z" fill="#000" opacity="1" filter="url(#b1)"/>
<path d="M332.70,465.30 C333.00,461.79 339.98,461.60 350.90,461.60 C361.82,461.60 368.80,461.79 369.10,465.30 C368.80,468.81 361.82,469.00 350.90,469.00 C339.98,469.00 333.00,468.81 332.70,465.30 Z" fill="#000" opacity="1" filter="url(#b1)"/>
</g>
<rect x="245.90" y="456.00" width="124.80" height="20.80" fill="none" stroke="#575757" stroke-width="1.3"/><rect x="247.15" y="457.25" width="122.30" height="18.30" fill="none" stroke="#f4f4f4" stroke-width="1.0" stroke-opacity="0.35"/>
<line x1="421.70" y1="382.00" x2="421.70" y2="499.30" stroke="#111" stroke-width="1.6"/>
<line x1="418.30" y1="498.50" x2="421.70" y2="498.50" stroke="#111" stroke-width="1.2"/>
<text x="415.30" y="502.00" font-size="8.2" text-anchor="end" font-weight="normal" >0.0</text>
<line x1="418.30" y1="460.10" x2="421.70" y2="460.10" stroke="#111" stroke-width="1.2"/>
<text x="415.30" y="463.60" font-size="8.2" text-anchor="end" font-weight="normal" >0.5</text>
<line x1="418.30" y1="421.70" x2="421.70" y2="421.70" stroke="#111" stroke-width="1.2"/>
<text x="415.30" y="425.20" font-size="8.2" text-anchor="end" font-weight="normal" >1.0</text>
<line x1="418.30" y1="383.30" x2="421.70" y2="383.30" stroke="#111" stroke-width="1.2"/>
<text x="415.30" y="386.80" font-size="8.2" text-anchor="end" font-weight="normal" >1.5</text>
<text transform="translate(398.0,439.7) rotate(-90)" font-size="8.85" text-anchor="middle">Relative protein levels</text>
<line x1="420.90" y1="498.50" x2="512.60" y2="498.50" stroke="#111" stroke-width="1.5"/>
<rect x="427.65" y="422.05" width="19.80" height="76.45" fill="#ad0229" stroke="#7c011d" stroke-width="0.7"/>
<rect x="457.35" y="480.42" width="19.70" height="18.08" fill="#2c4f8a" stroke="#1f3863" stroke-width="0.7"/>
<line x1="467.20" y1="480.07" x2="467.20" y2="478.38" stroke="#222" stroke-width="1.0"/>
<line x1="463.70" y1="478.38" x2="470.70" y2="478.38" stroke="#222" stroke-width="1.2"/>
<circle cx="463.10" cy="473.08" r="1.2" fill="#111"/>
<circle cx="467.20" cy="473.08" r="1.2" fill="#111"/>
<circle cx="471.30" cy="473.08" r="1.2" fill="#111"/>
<rect x="487.35" y="487.71" width="20.10" height="10.79" fill="#62a83e" stroke="#46782c" stroke-width="0.7"/>
<line x1="497.40" y1="487.36" x2="497.40" y2="486.21" stroke="#222" stroke-width="1.0"/>
<line x1="493.90" y1="486.21" x2="500.90" y2="486.21" stroke="#222" stroke-width="1.2"/>
<circle cx="493.30" cy="480.91" r="1.2" fill="#111"/>
<circle cx="497.40" cy="480.91" r="1.2" fill="#111"/>
<circle cx="501.50" cy="480.91" r="1.2" fill="#111"/>
<line x1="467.20" y1="498.50" x2="467.20" y2="501.80" stroke="#111" stroke-width="1.1"/>
<rect x="429.00" y="381.90" width="10.80" height="4.60" fill="#ad0229" />
<text x="442.40" y="386.90" font-size="7.9" text-anchor="start" font-weight="normal" >Lucif shRNA</text>
<rect x="429.00" y="394.90" width="10.80" height="4.60" fill="#2c4f8a" />
<text x="442.40" y="399.90" font-size="7.9" text-anchor="start" font-weight="normal" >p19<tspan font-size="6.2" dy="-3.0" stroke-width="0.1">INK4d</tspan><tspan dy="3.0"> shRNA-1</tspan></text>
<rect x="429.00" y="407.90" width="10.80" height="4.60" fill="#62a83e" />
<text x="442.40" y="412.90" font-size="7.9" text-anchor="start" font-weight="normal" >p19<tspan font-size="6.2" dy="-3.0" stroke-width="0.1">INK4d</tspan><tspan dy="3.0"> shRNA-2</tspan></text>
</g>
</svg>
</body></html>
